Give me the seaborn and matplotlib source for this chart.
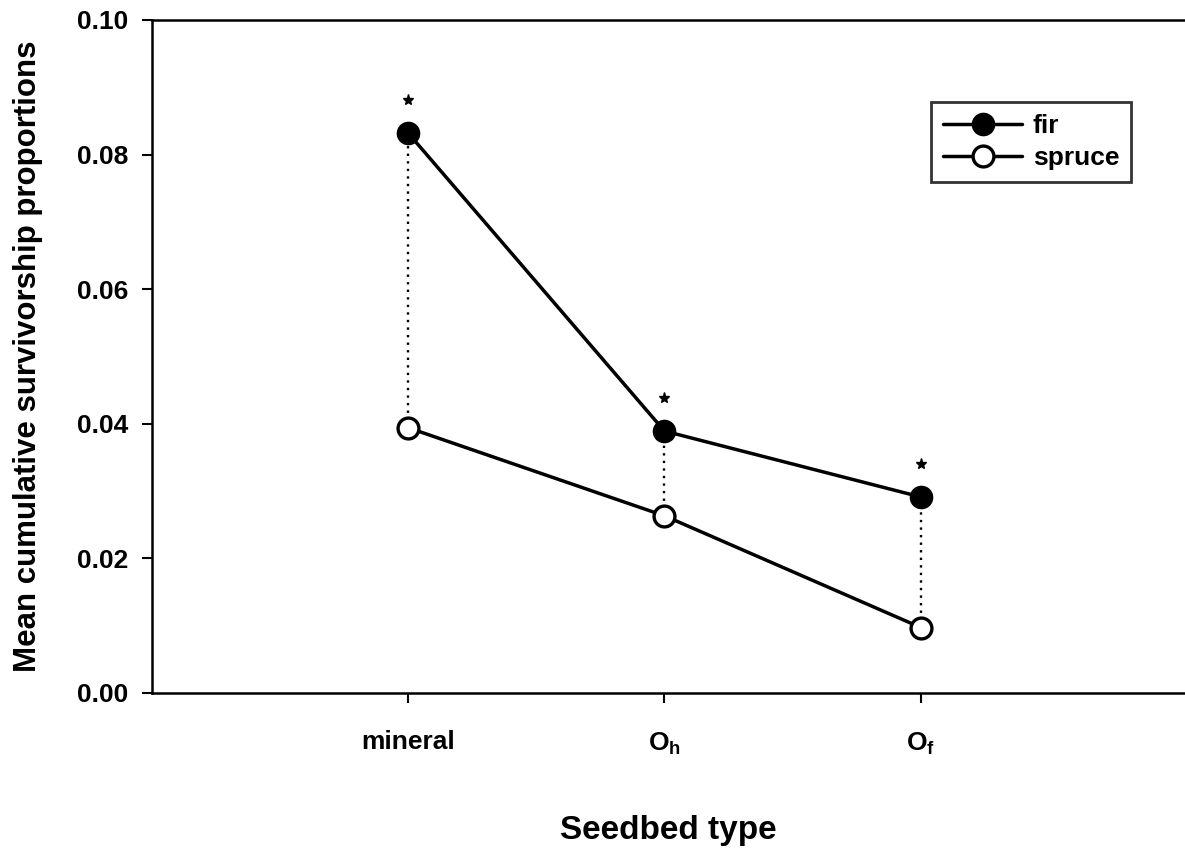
import matplotlib
matplotlib.use("Agg")
import matplotlib.pyplot as plt
import seaborn as sns
import pandas as pd
import numpy as np

categories = ["mineral", "O$_h$", "O$_f$"]
fir = [0.0832, 0.0389, 0.0291]
spruce = [0.0394, 0.0263, 0.0097]
significant = [True, True, True]
y_ticks = [0.00, 0.02, 0.04, 0.06, 0.08, 0.10]

sns.set_theme(style="ticks")
plt.rcParams["font.family"] = ["Liberation Sans", "DejaVu Sans"]
plt.rcParams["font.weight"] = "bold"
plt.rcParams["text.color"] = "black"
plt.rcParams["axes.labelcolor"] = "black"
plt.rcParams["mathtext.fontset"] = "custom"
plt.rcParams["mathtext.rm"] = "Liberation Sans:bold"
plt.rcParams["mathtext.it"] = "Liberation Sans:bold"
plt.rcParams["mathtext.bf"] = "Liberation Sans:bold"

xpos = np.arange(1, len(categories) + 1)
df = pd.DataFrame({
    "x": np.concatenate([xpos, xpos]),
    "value": fir + spruce,
    "species": ["fir"] * len(fir) + ["spruce"] * len(spruce),
})

fig = plt.figure(figsize=(11.85, 8.48), dpi=100)
ax = fig.add_axes([0.128, 0.183, 0.872, 0.7935])

# dotted connectors
for x, f, s in zip(xpos, fir, spruce):
    ax.plot([x, x], [s, f], linestyle=(0, (1, 2.2)), color="black", lw=1.7, zorder=1)

sns.lineplot(data=df[df.species == "fir"], x="x", y="value", ax=ax, color="black",
             lw=2.5, marker="o", markersize=15, markerfacecolor="black",
             markeredgecolor="black", markeredgewidth=2, label="fir", zorder=3)
sns.lineplot(data=df[df.species == "spruce"], x="x", y="value", ax=ax, color="black",
             lw=2.5, marker="o", markersize=15, markerfacecolor="white",
             markeredgecolor="black", markeredgewidth=2.4, label="spruce", zorder=3)

for x, f, sig in zip(xpos, fir, significant):
    if sig:
        ax.plot(x, f + 0.0049, marker="*", color="black", markersize=8, zorder=4)

ax.set_xlim(0, 4.03)
ax.set_ylim(0, 0.10)
ax.set_xticks(xpos)
ax.set_xticklabels(categories, fontsize=19, fontweight="bold")
ax.set_yticks(y_ticks)
ax.set_yticklabels([f"{v:.2f}" for v in y_ticks], fontsize=19, fontweight="bold")
ax.tick_params(axis="x", length=7, width=1.5, pad=20, colors="black")
ax.tick_params(axis="y", length=7, width=1.5, pad=10, colors="black")
for side in ["left", "bottom", "top"]:
    ax.spines[side].set_linewidth(1.8)
    ax.spines[side].set_color("black")
ax.spines["right"].set_visible(False)

ax.set_xlabel("Seedbed type", fontsize=24, fontweight="bold", labelpad=42, color="black")
ax.set_ylabel("Mean cumulative survivorship proportions", fontsize=22.5, fontweight="bold",
              labelpad=24, color="black")

leg = ax.legend(loc="upper right", bbox_to_anchor=(0.948, 0.878), fontsize=19,
                frameon=True, fancybox=False, edgecolor="black", handlelength=3.0,
                borderpad=0.45, labelspacing=0.3, handletextpad=0.4, borderaxespad=0)
leg.get_frame().set_linewidth(2)
for t in leg.get_texts():
    t.set_fontweight("bold")
    t.set_color("black")

fig.savefig("out.png", dpi=100)
